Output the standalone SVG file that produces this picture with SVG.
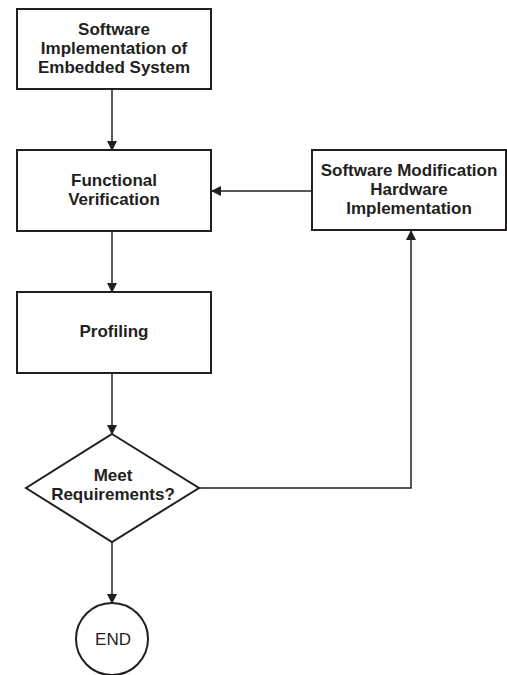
<svg xmlns="http://www.w3.org/2000/svg" width="507" height="675" viewBox="0 0 507 675">
<defs>
<marker id="ah" markerWidth="10" markerHeight="10" refX="9" refY="5" orient="auto" markerUnits="userSpaceOnUse">
<path d="M0,0 L10,5 L0,10 Z" fill="#231f20"/>
</marker>
<style>
.box{fill:#fff;stroke:#231f20;stroke-width:2}
.con{fill:none;stroke:#231f20;stroke-width:1.5}
.t{font-family:"Liberation Sans",Arial,sans-serif;font-size:17px;font-weight:bold;fill:#231f20;text-anchor:middle}
.r{font-family:"Liberation Sans",Arial,sans-serif;font-size:17px;fill:#231f20;text-anchor:middle}
</style>
</defs>
<rect width="507" height="675" fill="#fff"/>
<g id="connectors">
<line class="con" x1="112" y1="89" x2="112" y2="150" marker-end="url(#ah)"/>
<line class="con" x1="112" y1="231" x2="112" y2="292" marker-end="url(#ah)"/>
<line class="con" x1="112" y1="373" x2="112" y2="434" marker-end="url(#ah)"/>
<line class="con" x1="112" y1="542" x2="112" y2="603" marker-end="url(#ah)"/>
<polyline class="con" points="199,488 411,488 411,231" marker-end="url(#ah)"/>
<line class="con" x1="312" y1="191" x2="212" y2="191" marker-end="url(#ah)"/>
</g>
<g id="sw-impl">
<rect class="box" x="17" y="9" width="194" height="80"/>
<text class="t" x="114" y="35">Software</text>
<text class="t" x="114" y="54">Implementation of</text>
<text class="t" x="114" y="73">Embedded System</text>
</g>
<g id="func-ver">
<rect class="box" x="17" y="150" width="194" height="81"/>
<text class="t" x="114" y="186">Functional</text>
<text class="t" x="114" y="205">Verification</text>
</g>
<g id="sw-mod">
<rect class="box" x="312" y="150" width="194" height="80"/>
<text class="t" x="409" y="176">Software Modification</text>
<text class="t" x="409" y="195">Hardware</text>
<text class="t" x="409" y="214">Implementation</text>
</g>
<g id="profiling">
<rect class="box" x="17" y="292" width="194" height="81"/>
<text class="t" x="114" y="337">Profiling</text>
</g>
<g id="decision">
<polygon class="box" points="112,434 199,488 112,542 26,488"/>
<text class="t" x="113" y="481">Meet</text>
<text class="t" x="113" y="500">Requirements?</text>
</g>
<g id="end">
<circle class="box" cx="112" cy="639" r="36"/>
<text class="r" x="113" y="645">END</text>
</g>
</svg>
